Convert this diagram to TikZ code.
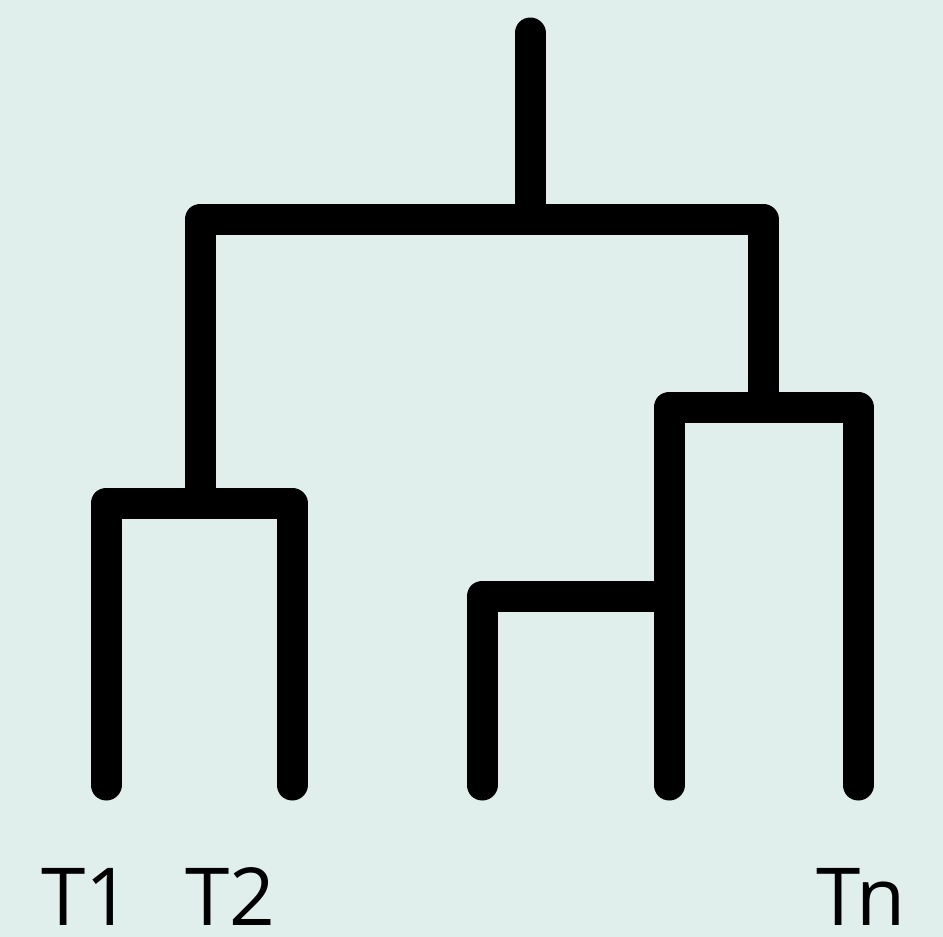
\documentclass[tikz,border=0pt]{standalone}
\usepackage{fontspec}
\setmainfont{Open Sans}
\definecolor{bgteal}{RGB}{224,239,235}
\begin{document}
\begin{tikzpicture}[x=1pt,y=-1pt,
    branch/.style={line width=31pt,line cap=round,line join=round},
    taxon/.style={anchor=base,inner sep=0pt,text depth=0pt,font=\fontsize{80}{90}\selectfont}]
            \fill[bgteal] (0,0) rectangle (943,937);
            \useasboundingbox (0,0) rectangle (943,937);

            % leaves
            \coordinate (l1) at (106,785);
            \coordinate (l2) at (292,785);
            \coordinate (l3) at (482,785);
            \coordinate (l4) at (669,785);
            \coordinate (ln) at (858,785);

            % inner nodes
            \coordinate (top) at (530,33);
            \coordinate (rootbar) at (530,219);
            \coordinate (c12) at (200,503);
            \coordinate (cright) at (763,407);
            \coordinate (csmall) at (669,596);

            \draw[branch] (rootbar) -- (top);
            \draw[branch] (c12) |- (rootbar) -| (cright);
            \draw[branch] (l1) |- (c12) -| (l2);
            \draw[branch] (l4) |- (cright) -| (ln);
            \draw[branch] (l3) |- (csmall);

            \node[taxon] (t1) at (86,925) {T1};
            \node[taxon] (t2) at (230,925) {T2};
            \node[taxon] (tn) at (861,925) {Tn};
        \end{tikzpicture}
\end{document}
